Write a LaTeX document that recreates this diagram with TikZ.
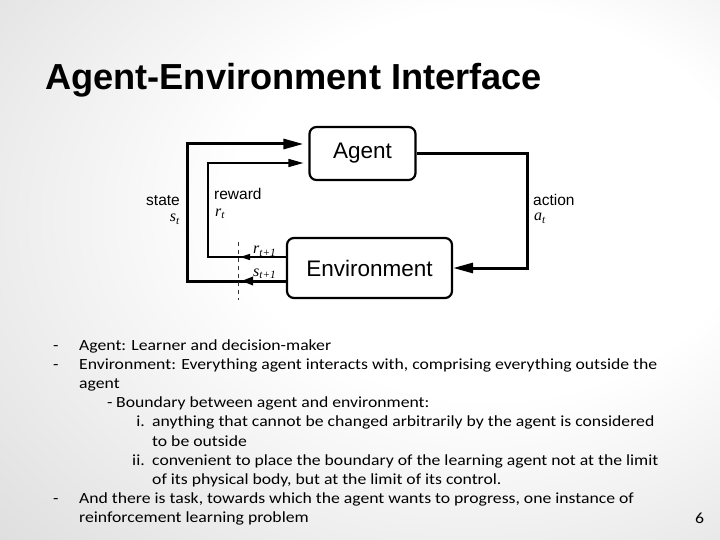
\documentclass[tikz,border=0pt]{standalone}
\usepackage{fontspec}
\setmainfont[FakeStretch=1.14]{Carlito}
\newfontfamily\arial{Liberation Sans}
\newfontfamily\tms{Liberation Serif}
\usetikzlibrary{arrows.meta}
\pgfdeclareradialshading{slidebg}{\pgfpoint{12bp}{8bp}}{color(0bp)=(white); color(18bp)=(white); color(50bp)=(black!17); color(75bp)=(black!24)}
\tikzset{
  box/.style={draw, line width=2.2pt, rounded corners=7pt, font=\arial\fontsize{22.5}{26}\selectfont, inner sep=0pt},
  thickline/.style={line width=3pt},
  thinline/.style={line width=1.4pt},
  bigtip/.style={-{Triangle[length=20pt,width=10pt]}},
  smalltip/.style={-{Triangle[length=15pt,width=8pt]}},
  lbl/.style={font=\arial\fontsize{15.5}{18}\selectfont, inner sep=0pt},
  mlbl/.style={font=\tms\itshape\fontsize{16}{18}\selectfont, inner sep=0pt, text height=6.5pt},
  body/.style={anchor=base west, inner sep=0pt, font=\fontsize{15.5}{18}\selectfont},
  blab/.style={anchor=base east, inner sep=0pt, font=\fontsize{15.5}{18}\selectfont},
}
\newcommand{\subt}[1]{\textsubscript{#1}}
\begin{document}
\begin{tikzpicture}[x=1pt,y=-1pt]
\useasboundingbox (0,0) rectangle (720,540);
\shade[shading=slidebg] (0,0) rectangle (720,540);
% title
\node[anchor=base west, inner sep=0pt, font=\arial\bfseries\fontsize{36.2}{40}\selectfont] (title) at (45,90) {Agent-Environment Interface};
% boxes
\node[box, minimum width=106pt, minimum height=53pt] (agent) at (362.5,153.5) {Agent};
\node[box, minimum width=165pt, minimum height=60pt] (env) at (369.5,268) {Environment};
% coordinates
\coordinate (agS) at ([yshift=9.5pt]agent.west);
\coordinate (agR) at ([yshift=-9.5pt]agent.west);
\coordinate (enS) at ([yshift=-13pt]env.west);
\coordinate (enR) at ([yshift=11pt]env.west);
\coordinate (sx) at (187,0);
\coordinate (rx) at (208,0);
\coordinate (ax) at (527,0);
\coordinate (dtop) at (238,242);
\coordinate (dbot) at (238,300);
% action
\draw[thickline, bigtip] (agent.east) -- (ax |- agent.east) |- (env.east);
% state
\draw[thickline, bigtip, shorten >=5pt] (enS) -| (sx |- agS) -- (agS);
% reward
\draw[thinline, smalltip, shorten >=5pt] (enR) -| (rx |- agR) -- (agR);
% boundary
\draw[line width=1pt, dash pattern=on 4pt off 4pt, black!80] (dtop) -- (dbot);
\draw[thickline, -{Triangle[length=12pt,width=8pt]}] (enS) -- ([xshift=3pt]enS -| dtop);
\draw[thinline, -{Triangle[length=10pt,width=6pt]}] (enR) -- ([xshift=2pt]enR -| dtop);
% labels
\node[lbl, anchor=base east] (lstate) at (180,206) {state};
\node[mlbl, anchor=base east] (lst) at (180,222) {s\subt{t}};
\node[lbl, anchor=base west] (lreward) at (214,200) {reward};
\node[mlbl, anchor=base west] (lrt) at (215,216) {r\subt{t}};
\node[lbl, anchor=base west] (laction) at (533,206) {action};
\node[mlbl, anchor=base west] (lat) at (534,221) {a\subt{t}};
\node[mlbl, anchor=base west] (lrt1) at (253,254) {r\subt{t+1}};
\node[mlbl, anchor=base west] (lst1) at (253,276) {s\subt{t+1}};
% body text
\node[body] (d1) at (53,350) {-};
\node[body] (t1) at (79,350) {Agent: Learner and decision-maker};
\node[body] (d2) at (53,369.2) {-};
\node[body] (t2) at (79,369.2) {Environment: Everything agent interacts with, comprising everything outside the};
\node[body] (t3) at (79,388.4) {agent};
\node[body] (d4) at (107,407.6) {-};
\node[body] (t4) at (116,407.6) {Boundary between agent and environment:};
\node[blab] (l5) at (145,426.8) {i.};
\node[body] (t5) at (152,426.8) {anything that cannot be changed arbitrarily by the agent is considered};
\node[body] (t6) at (152,446) {to be outside};
\node[blab] (l7) at (145,465.2) {ii.};
\node[body] (t7) at (152,465.2) {convenient to place the boundary of the learning agent not at the limit};
\node[body] (t8) at (152,484.4) {of its physical body, but at the limit of its control.};
\node[body] (d9) at (53,503.6) {-};
\node[body] (t9) at (79,503.6) {And there is task, towards which the agent wants to progress, one instance of};
\node[body] (t10) at (79,522.8) {reinforcement learning problem};
\node[body] (pg) at (695,523) {6};
\end{tikzpicture}
\end{document}
